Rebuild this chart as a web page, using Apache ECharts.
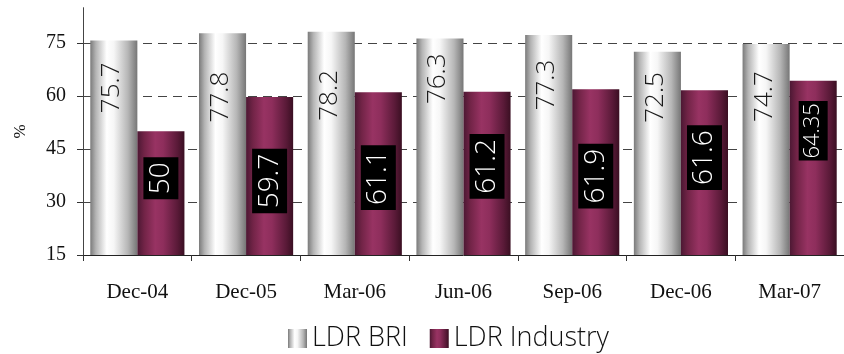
<!DOCTYPE html>
<html>
<head>
<meta charset="utf-8">
<script src="https://cdn.jsdelivr.net/npm/echarts@6/dist/echarts.min.js"></script>
<style>
html,body{margin:0;padding:0;background:#fff;}
#chart{width:844px;height:354px;}
</style>
</head>
<body>
<div id="chart"></div>
<script>
const categories = ['Dec-04', 'Dec-05', 'Mar-06', 'Jun-06', 'Sep-06', 'Dec-06', 'Mar-07'];
const ldrBri = [75.7, 77.8, 78.2, 76.3, 77.3, 72.5, 74.7];
const ldrIndustry = [50, 59.7, 61.1, 61.2, 61.9, 61.6, 64.35];
const yTicks = [15, 30, 45, 60, 75];
const seriesNames = ['LDR BRI', 'LDR Industry'];

// label placement nudges along the bar (style only, screen px, negative = up)
const briLabelShift = [-60, -47, -48, -68, -60, -56, -53];
const indLabelShift = [-15, 5, 4, -7, 4, -15, -37];

const chart = echarts.init(document.getElementById('chart'), null, {renderer: 'canvas'});

const briGrad = new echarts.graphic.LinearGradient(0, 0, 1, 0, [
  {offset: 0, color: '#7a7a7a'},
  {offset: 0.12, color: '#b4b4b4'},
  {offset: 0.35, color: '#ffffff'},
  {offset: 0.5, color: '#f6f6f6'},
  {offset: 0.8, color: '#b6b6b6'},
  {offset: 1, color: '#767676'}
]);
const indGrad = new echarts.graphic.LinearGradient(0, 0, 1, 0, [
  {offset: 0, color: '#4c1833'},
  {offset: 0.15, color: '#722447'},
  {offset: 0.38, color: '#983363'},
  {offset: 0.55, color: '#8e2e5c'},
  {offset: 0.85, color: '#5a1a38'},
  {offset: 1, color: '#3a0f22'}
]);

const labelFont = "'Open Sans', 'DejaVu Sans', sans-serif";
const serifFont = "'Liberation Serif', 'DejaVu Serif', serif";

// rotated (90deg) labels: offset is in the text's own frame, so a vertical
// screen shift dy maps to a local x shift of -dy
const briData = ldrBri.map((v, i) => ({
  value: v,
  label: {offset: [-briLabelShift[i], -2]}
}));
const indData = ldrIndustry.map((v, i) => {
  const long = String(v).length > 4;
  return {
    value: v,
    label: {
      offset: [-indLabelShift[i], 0],
      fontSize: long ? 22 : 28,
      padding: long ? [4, 2, 3, 2] : [4, 5, 3, 5]
    }
  };
});

const option = {
  animation: false,
  backgroundColor: '#ffffff',
  grid: {left: 83, top: 7.7, width: 767, height: 247.3, containLabel: false},
  legend: {
    data: seriesNames,
    left: 283,
    top: 320,
    itemWidth: 19,
    itemHeight: 19,
    itemGap: 22,
    icon: 'rect',
    textStyle: {fontFamily: labelFont, fontWeight: 300, fontSize: 27, color: '#111'}
  },
  xAxis: {
    type: 'category',
    data: categories,
    boundaryGap: true,
    axisLine: {lineStyle: {color: '#222', width: 1}},
    axisTick: {show: true, length: 6, lineStyle: {color: '#333'}},
    axisLabel: {margin: 27, fontFamily: serifFont, fontSize: 21, color: '#111'},
    splitLine: {show: false}
  },
  yAxis: {
    type: 'value',
    min: 15,
    max: 85,
    interval: 15,
    name: '%',
    nameLocation: 'middle',
    nameGap: 54,
    nameRotate: 90,
    nameTextStyle: {fontFamily: serifFont, fontSize: 17, color: '#111'},
    axisLine: {show: true, lineStyle: {color: '#444', width: 1}},
    axisTick: {show: true, length: 6, inside: false, customValues: yTicks, lineStyle: {color: '#333'}},
    axisLabel: {
      margin: 17,
      customValues: yTicks,
      fontFamily: serifFont,
      fontSize: 20,
      color: '#111'
    },
    splitLine: {
      show: true,
      showMinLine: false,
      showMaxLine: true,
      lineStyle: {color: '#444', type: [9, 6], width: 1}
    }
  },
  series: [
    {
      name: seriesNames[0],
      type: 'bar',
      data: briData,
      barWidth: '43.3%',
      barGap: '0%',
      itemStyle: {color: briGrad},
      label: {
        show: true,
        position: 'inside',
        rotate: 90,
        fontFamily: labelFont,
        fontWeight: 300,
        fontSize: 26,
        color: '#1a1a1a'
      }
    },
    {
      name: seriesNames[1],
      type: 'bar',
      data: indData,
      barWidth: '43.3%',
      barGap: '0%',
      itemStyle: {color: indGrad},
      label: {
        show: true,
        position: 'inside',
        rotate: 90,
        fontFamily: labelFont,
        fontWeight: 300,
        fontSize: 28,
        color: '#ffffff',
        backgroundColor: '#000000'
      }
    }
  ]
};
chart.setOption(option);
</script>
</body>
</html>
